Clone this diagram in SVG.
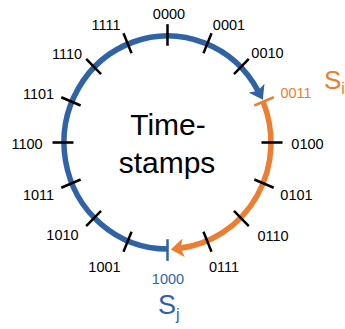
<svg xmlns="http://www.w3.org/2000/svg" width="345" height="329" viewBox="0 0 345 329">
  <style>
    .lbl { font-family: "Liberation Sans", Arial, sans-serif; font-size: 14.5px; text-anchor: middle; fill: #000; }
    .big { font-family: "Liberation Sans", Arial, sans-serif; font-size: 30px; text-anchor: middle; fill: #000; }
    .sym { font-family: "Liberation Sans", Arial, sans-serif; }
    .tick { stroke: #000; stroke-width: 2.5; fill: none; }
    .arc { fill: none; stroke-width: 5.5; }
    .blue { stroke: #3063a5; }
    .orange { stroke: #ed7d31; }
  </style>
  <defs>
    <marker id="head-blue" markerUnits="userSpaceOnUse" viewBox="0 0 13 18" markerWidth="13" markerHeight="18" refX="3" refY="9" orient="auto">
      <path d="M0,0 L13,9 L0,18 L3,9 Z" fill="#3063a5"/>
    </marker>
    <marker id="head-orange" markerUnits="userSpaceOnUse" viewBox="0 0 13 18" markerWidth="13" markerHeight="18" refX="3" refY="9" orient="auto">
      <path d="M0,0 L13,9 L0,18 L3,9 Z" fill="#ed7d31"/>
    </marker>
  </defs>

  <!-- timestamp ring: blue span 1000 -> 0011, orange span 0011 -> 1000 -->
  <g id="connectors" transform="translate(167.5 142.5) scale(1 1.029)">
    <path class="arc blue" d="M0,103.5 A103.5,103.5 0 1 1 90.52,-50.18" marker-end="url(#head-blue)"/>
    <path class="arc orange" d="M95.62,-39.61 A103.5,103.5 0 0 1 13.15,102.66" marker-end="url(#head-orange)"/>
  </g>

  <!-- tick marks every 22.5 degrees -->
  <g id="ticks" transform="translate(167.5 142.5) scale(1 1.029)">
    <line class="tick" y1="-94" y2="-115"/>
    <line class="tick" y1="-94" y2="-115" transform="rotate(22.5)"/>
    <line class="tick" y1="-94" y2="-115" transform="rotate(45)"/>
    <line class="tick" y1="-94" y2="-115" transform="rotate(67.5)" style="stroke:#ed7d31"/>
    <line class="tick" y1="-94" y2="-115" transform="rotate(90)"/>
    <line class="tick" y1="-94" y2="-115" transform="rotate(112.5)"/>
    <line class="tick" y1="-94" y2="-115" transform="rotate(135)"/>
    <line class="tick" y1="-94" y2="-115" transform="rotate(157.5)"/>
    <line class="tick" y1="-94" y2="-115" transform="rotate(180)" style="stroke:#3063a5"/>
    <line class="tick" y1="-94" y2="-115" transform="rotate(202.5)"/>
    <line class="tick" y1="-94" y2="-115" transform="rotate(225)"/>
    <line class="tick" y1="-94" y2="-115" transform="rotate(247.5)"/>
    <line class="tick" y1="-94" y2="-115" transform="rotate(270)"/>
    <line class="tick" y1="-94" y2="-115" transform="rotate(292.5)"/>
    <line class="tick" y1="-94" y2="-115" transform="rotate(315)"/>
    <line class="tick" y1="-94" y2="-115" transform="rotate(337.5)"/>
  </g>

  <g id="labels">
    <text class="lbl" x="169" y="18.5">0000</text>
    <text class="lbl" x="229" y="29.5">0001</text>
    <text class="lbl" x="267.5" y="58">0010</text>
    <text class="lbl" x="296" y="97.5" style="fill:#ed7d31">0011</text>
    <text class="lbl" x="307.5" y="149">0100</text>
    <text class="lbl" x="296.5" y="200">0101</text>
    <text class="lbl" x="273" y="240.5">0110</text>
    <text class="lbl" x="224" y="271.5">0111</text>
    <text class="lbl" x="168" y="283.5" style="fill:#3063a5">1000</text>
    <text class="lbl" x="104.5" y="272">1001</text>
    <text class="lbl" x="62.5" y="240">1010</text>
    <text class="lbl" x="38.5" y="200">1011</text>
    <text class="lbl" x="27" y="149">1100</text>
    <text class="lbl" x="38.5" y="98.5">1101</text>
    <text class="lbl" x="67" y="58.5">1110</text>
    <text class="lbl" x="106" y="29.5">1111</text>
  </g>

  <g id="center-title">
    <text class="big" x="168" y="135">Time-</text>
    <text class="big" x="167" y="172.5">stamps</text>
  </g>

  <g id="s-i">
    <text class="sym" x="324" y="89" font-size="26" fill="#ed7d31">S<tspan font-size="16" dy="5">i</tspan></text>
  </g>
  <g id="s-j">
    <text class="sym" x="158" y="313.5" font-size="27" fill="#3063a5">S<tspan font-size="16" dy="6">j</tspan></text>
  </g>
</svg>
